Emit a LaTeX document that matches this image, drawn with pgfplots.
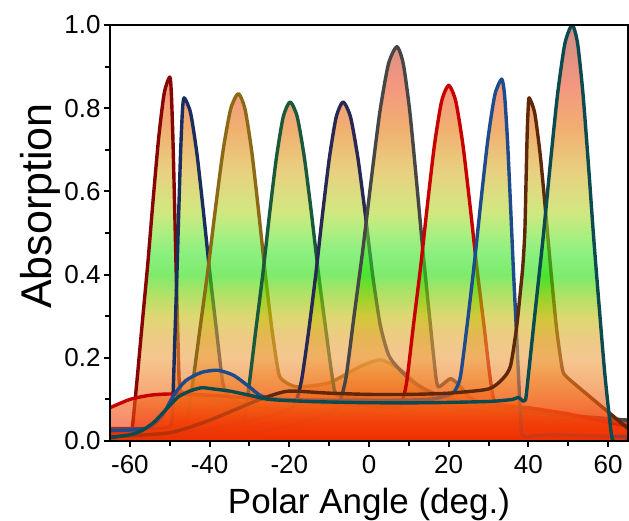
\documentclass[border=0pt]{standalone}
\usepackage{pgfplots}
\pgfplotsset{compat=1.18}
\usepackage{pgfplotstable}
\usepackage{fontspec}
\setmainfont{Liberation Sans}

\definecolor{g00}{RGB}{240,45,0}
\definecolor{g05}{RGB}{242,65,10}
\definecolor{g10}{RGB}{242,100,25}
\definecolor{g15}{RGB}{240,130,40}
\definecolor{g20}{RGB}{238,160,70}
\definecolor{g25}{RGB}{225,168,50}
\definecolor{g30}{RGB}{200,190,20}
\definecolor{g35}{RGB}{130,205,0}
\definecolor{g40}{RGB}{40,222,10}
\definecolor{g45}{RGB}{60,230,40}
\definecolor{g50}{RGB}{115,228,45}
\definecolor{g55}{RGB}{177,217,43}
\definecolor{g65}{RGB}{217,177,43}
\definecolor{g75}{RGB}{230,123,17}
\definecolor{g85}{RGB}{238,83,43}
\definecolor{g100}{RGB}{177,63,50}

\pgfdeclareverticalshading{absgrad}{100bp}{color(0bp)=(g00); color(25bp)=(g00); color(27.5bp)=(g05); color(30bp)=(g10); color(32.5bp)=(g15); color(35bp)=(g20); color(37.5bp)=(g25); color(40bp)=(g30); color(42.5bp)=(g35); color(45bp)=(g40); color(47.5bp)=(g45); color(50bp)=(g50); color(52.5bp)=(g55); color(57.5bp)=(g65); color(62.5bp)=(g75); color(67.5bp)=(g85); color(75bp)=(g100); color(100bp)=(g100)}

\definecolor{cA}{RGB}{135,5,5}
\definecolor{cB}{RGB}{25,45,95}
\definecolor{cC}{RGB}{140,105,20}
\definecolor{cD}{RGB}{25,90,60}
\definecolor{cE}{RGB}{40,40,85}
\definecolor{cF}{RGB}{70,70,70}
\definecolor{cG}{RGB}{200,0,0}
\definecolor{cH}{RGB}{30,75,140}
\definecolor{cI}{RGB}{95,40,10}
\definecolor{cJ}{RGB}{10,75,80}

\pgfplotstableread{
x y
-65 0.02
-61 0.02
-60 0.022
-59.43 0.03
-58.28 0.14
-56.9 0.284
-55.52 0.426
-54.14 0.584
-52.76 0.731
-51.38 0.837
-50 0.875
-49.61 0.837
-49.22 0.731
-48.83 0.584
-48.44 0.426
-48.05 0.284
-47.66 0.15
-47.2 0.12
-45 0.11
-40 0.1
-30 0.085
-15 0.07
0 0.06
20 0.05
40 0.045
65 0.04
}\pA
\pgfplotstableread{
x y
-65 0.03
-56 0.03
-51 0.032
-49.48 0.045
-49.1 0.132
-48.65 0.268
-48.2 0.402
-47.75 0.55
-47.3 0.689
-46.85 0.789
-46.4 0.825
-44.78 0.789
-43.16 0.689
-41.54 0.55
-39.92 0.402
-38.3 0.268
-36.68 0.14
-35 0.105
-30 0.085
-20 0.07
0 0.06
30 0.05
65 0.03
}\pB
\pgfplotstableread{
x y
-65 0.01
-55 0.012
-50 0.02
-45.92 0.045
-44.32 0.134
-42.4 0.271
-40.48 0.407
-38.56 0.557
-36.64 0.697
-34.72 0.798
-32.8 0.835
-31.12 0.798
-29.44 0.697
-27.76 0.557
-26.08 0.407
-24.4 0.271
-22.72 0.165
-21.5 0.145
-18 0.13
-10 0.14
-2 0.18
3 0.195
8 0.17
14 0.12
20 0.09
30 0.07
45 0.05
65 0.03
}\pC
\pgfplotstableread{
x y
-65 0.01
-45 0.015
-35 0.03
-31.59 0.05
-30.15 0.13
-28.43 0.265
-26.7 0.397
-24.98 0.544
-23.25 0.68
-21.53 0.779
-19.8 0.815
-18.0 0.779
-16.2 0.68
-14.4 0.544
-12.6 0.397
-10.8 0.265
-9.0 0.14
-7.8 0.11
0 0.1
10 0.09
20 0.08
40 0.06
65 0.04
}\pD
\pgfplotstableread{
x y
-65 0.005
-40 0.03
-25 0.06
-19.5 0.08
-18.29 0.095
-16.85 0.15
-15.13 0.265
-13.4 0.397
-11.68 0.544
-9.95 0.68
-8.23 0.779
-6.5 0.815
-4.64 0.779
-2.78 0.68
-0.92 0.544
0.94 0.397
2.8 0.28
4.6 0.215
6 0.19
10 0.15
15 0.12
25 0.09
40 0.07
65 0.05
}\pE
\pgfplotstableread{
x y
-65 0.005
-30 0.02
-15 0.05
-8.5 0.075
-7.56 0.085
-5.78 0.152
-3.65 0.308
-1.52 0.462
0.61 0.632
2.74 0.792
4.87 0.906
7 0.948
8.62 0.906
10.24 0.792
11.86 0.632
13.48 0.462
15.1 0.308
16.72 0.16
17.5 0.13
20.5 0.15
23 0.13
26 0.1
35 0.08
50 0.06
65 0.05
}\pF
\pgfplotstableread{
x y
-65 0.08
-60 0.1
-55 0.11
-50 0.113
-40 0.11
-25 0.1
-10 0.09
0 0.085
6.5 0.08
7.9 0.085
9.38 0.137
11.15 0.278
12.92 0.416
14.69 0.57
16.46 0.714
18.23 0.817
20 0.855
21.77 0.817
23.54 0.714
25.31 0.57
27.08 0.416
28.85 0.278
30.62 0.137
32.1 0.09
40 0.08
50 0.065
65 0.035
}\pG
\pgfplotstableread{
x y
-65 0.025
-56 0.03
-52 0.06
-49 0.11
-46 0.145
-42 0.165
-38 0.17
-34 0.158
-30 0.13
-27 0.108
-22 0.1
-10 0.098
5 0.098
15 0.1
20 0.11
21.51 0.12
22.95 0.155
24.68 0.283
26.4 0.424
28.13 0.58
29.85 0.726
31.58 0.832
33.3 0.87
34.02 0.832
34.74 0.726
35.46 0.58
36.18 0.424
36.9 0.283
37.62 0.139
38.22 0.03
39 0.01
45 0.015
65 0.01
}\pH
\pgfplotstableread{
x y
-65 0.01
-50 0.02
-40 0.05
-30 0.09
-25 0.108
-20 0.12
-10 0.115
0 0.112
10 0.112
20 0.115
30 0.125
33.6 0.15
35.5 0.18
37 0.27
38 0.36
38.6 0.42
39.1 0.5
39.4 0.62
39.7 0.74
39.95 0.8
40.2 0.825
41.58 0.789
42.96 0.689
44.34 0.55
45.72 0.402
47.1 0.268
48.48 0.175
49.5 0.155
55 0.11
60 0.07
65 0.03
}\pI
\pgfplotstableread{
x y
-65 0.008
-60 0.015
-57 0.025
-54 0.045
-51 0.075
-48 0.105
-45 0.12
-42 0.128
-39 0.125
-35 0.12
-30 0.11
-25 0.1
-15 0.095
0 0.092
15 0.092
30 0.095
36 0.1
37.5 0.105
38.5 0.097
39.3 0.1
40.02 0.16
41.85 0.325
43.68 0.487
45.51 0.667
47.34 0.835
49.17 0.956
51 1.0
52.35 0.956
53.7 0.835
55.05 0.667
56.4 0.487
57.75 0.325
59.1 0.17
60.3 0.06
61.3 0.0
65 0.0
}\pJ

\pgfplotsset{
  areaf/.style={draw=none, smooth, tension=0.4,
    path picture={\pgfsetfillopacity{0.6}\pgfpathrectanglecorners{\pgfplotspointrelaxisxy{0}{0}}{\pgfplotspointrelaxisxy{1}{1}}\pgfshadepath{absgrad}{0}\pgfusepath{discard}}},
  linef/.style={line width=1.7pt, smooth, tension=0.4, line join=round},
}

\begin{document}
\begin{tikzpicture}
\begin{axis}[
  scale only axis, width=259pt, height=208pt,
  xmin=-65, xmax=65, ymin=0, ymax=1,
  axis on top,
  axis line style={line width=1pt},
  xtick={-60,-40,...,60}, minor x tick num=1,
  ytick={0,0.2,0.4,0.6,0.8,1.0}, minor y tick num=1,
  tick align=outside, tick pos=left,
  major tick length=3pt, minor tick length=2.5pt,
  every tick/.style={black, line width=1pt},
  /pgf/number format/assume math mode=true,
  tick label style={font=\fontsize{13}{15}\selectfont},
  xticklabel style={inner sep=0pt, yshift=-4pt},
  yticklabel style={inner sep=0pt, xshift=-1.5pt, /pgf/number format/fixed, /pgf/number format/fixed zerofill, /pgf/number format/precision=1},
  xlabel={Polar Angle (deg.)}, ylabel={Absorption},
  xlabel style={font=\fontsize{17.5}{20}\selectfont, at={([yshift=-36pt]axis description cs:0.5,0)}, anchor=base},
  ylabel style={font=\fontsize{21.5}{24}\selectfont, at={([xshift=-29pt]axis description cs:0,0.565)}, anchor=base},
]
\addplot[areaf] table {\pA} \closedcycle;
\addplot[linef, cA] table {\pA};
\addplot[areaf] table {\pB} \closedcycle;
\addplot[linef, cB] table {\pB};
\addplot[areaf] table {\pC} \closedcycle;
\addplot[linef, cC] table {\pC};
\addplot[areaf] table {\pD} \closedcycle;
\addplot[linef, cD] table {\pD};
\addplot[areaf] table {\pE} \closedcycle;
\addplot[linef, cE] table {\pE};
\addplot[areaf] table {\pF} \closedcycle;
\addplot[linef, cF] table {\pF};
\addplot[areaf] table {\pG} \closedcycle;
\addplot[linef, cG] table {\pG};
\addplot[areaf] table {\pH} \closedcycle;
\addplot[linef, cH] table {\pH};
\addplot[areaf] table {\pI} \closedcycle;
\addplot[linef, cI] table {\pI};
\addplot[areaf] table {\pJ} \closedcycle;
\addplot[linef, cJ] table {\pJ};
\end{axis}
\pgfresetboundingbox
\path[use as bounding box] ([shift={(-55pt,-40pt)}]current axis.south west) rectangle ([shift={(0.5pt,12.5pt)}]current axis.north east);
\end{tikzpicture}
\end{document}
